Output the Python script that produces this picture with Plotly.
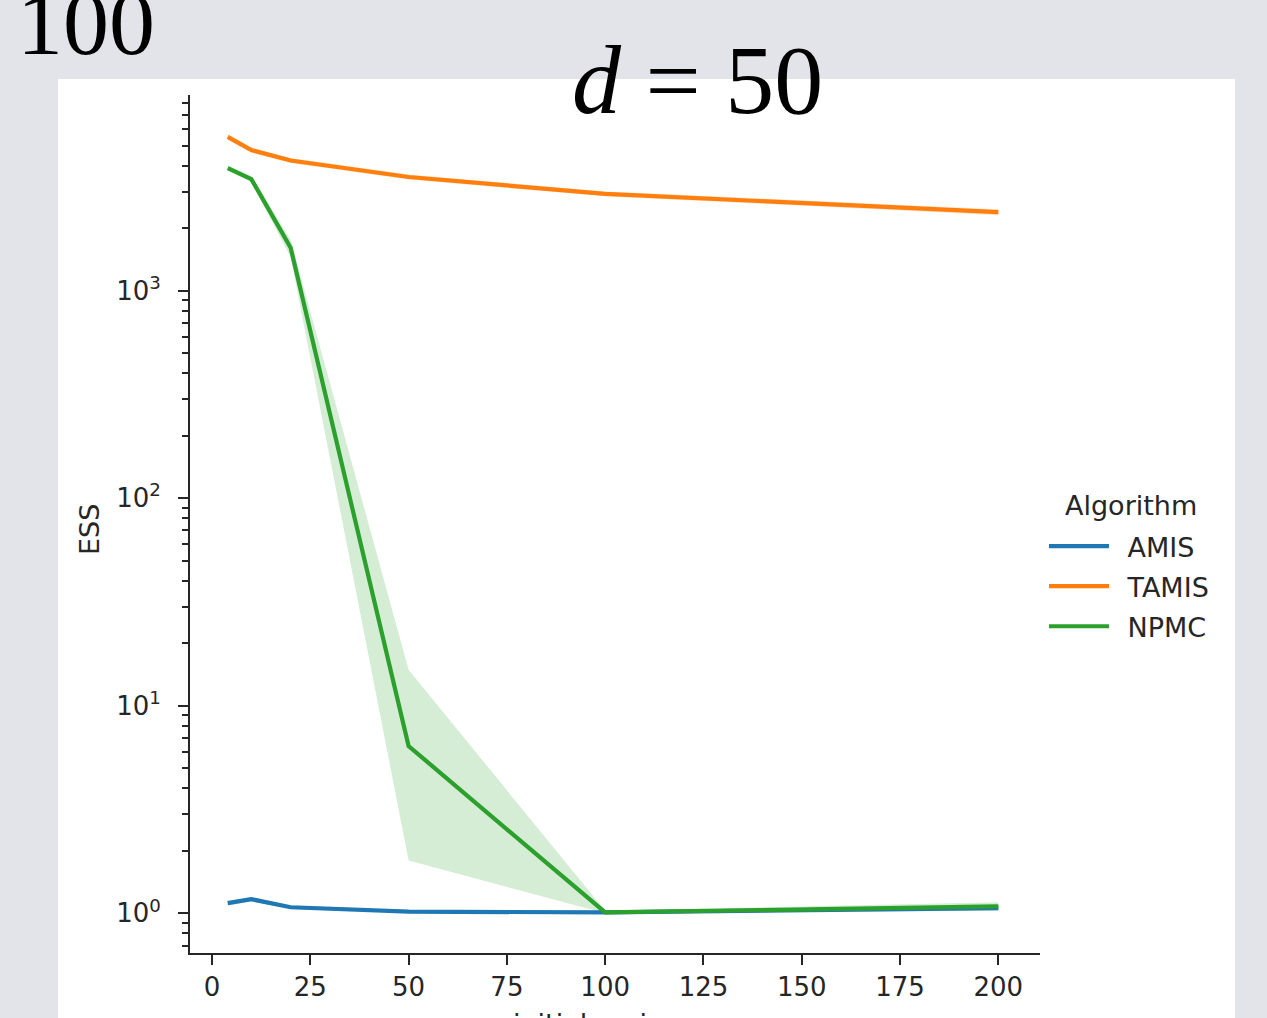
import plotly.graph_objects as go

# ---------------- data ----------------
variance = [4, 10, 20, 50, 100, 200]

amis_mean = [1.12, 1.17, 1.07, 1.02, 1.01, 1.06]
amis_lo = [1.09, 1.14, 1.05, 1.01, 1.00, 1.04]
amis_hi = [1.15, 1.20, 1.09, 1.03, 1.02, 1.08]

tamis_mean = [5510, 4760, 4240, 3530, 2930, 2390]
tamis_lo = [5330, 4620, 4120, 3430, 2850, 2310]
tamis_hi = [5690, 4900, 4360, 3630, 3010, 2470]

npmc_mean = [3900, 3450, 1610, 6.4, 1.01, 1.08]
npmc_lo = [3780, 3340, 1450, 1.8, 1.00, 1.03]
npmc_hi = [4020, 3560, 1760, 14.9, 1.03, 1.13]

x_ticks = [0, 25, 50, 75, 100, 125, 150, 175, 200]
y_tickvals = [1, 10, 100, 1000]
y_ticktext = ["10<sup>0</sup>", "10<sup>1</sup>", "10<sup>2</sup>", "10<sup>3</sup>"]

series = [
    ("AMIS", amis_mean, amis_lo, amis_hi, "#1f77b4", "rgba(31,119,180,0.2)"),
    ("TAMIS", tamis_mean, tamis_lo, tamis_hi, "#ff7f0e", "rgba(255,127,14,0.2)"),
    ("NPMC", npmc_mean, npmc_lo, npmc_hi, "#2ca02c", "rgba(44,160,44,0.2)"),
]

# ---------------- layout geometry (pixels) ----------------
W, H = 1267, 1018
L, R, T, B = 190, 1040, 95, 953


def px_x(px):
    return (px - L) / (R - L)


def px_y(py):
    return (B - py) / (B - T)


fig = go.Figure()

for name, mean, lo, hi, col, fillcol in series:
    fig.add_trace(go.Scatter(x=variance, y=lo, mode="lines", line=dict(width=0, color=col),
                             showlegend=False, hoverinfo="skip", legendgroup=name))
    fig.add_trace(go.Scatter(x=variance, y=hi, mode="lines", line=dict(width=0, color=col),
                             fill="tonexty", fillcolor=fillcol, showlegend=False,
                             hoverinfo="skip", legendgroup=name))

for name, mean, lo, hi, col, fillcol in series:
    fig.add_trace(go.Scatter(x=variance, y=mean, mode="lines", name="\u2002" + name,
                             legendgroup=name, line=dict(width=4.2, color=col)))

axis_col = "#262626"
tick_font = dict(family="DejaVu Sans", size=26, color=axis_col)
lab_font = dict(family="DejaVu Sans", size=27, color=axis_col)

fig.update_layout(
    width=W, height=H,
    margin=dict(l=L, r=W - R, t=T, b=H - B, pad=0),
    paper_bgcolor="#e3e4e9",
    plot_bgcolor="rgba(0,0,0,0)",
    showlegend=True,
    legend=dict(
        font=lab_font,
        x=px_x(1044), y=px_y(522), xanchor="left", yanchor="top",
        bgcolor="rgba(0,0,0,0)", itemwidth=60,
        traceorder="grouped", tracegroupgap=2,
    ),
    xaxis=dict(
        range=[-5.6, 210.6], tickvals=x_ticks, showgrid=False, zeroline=False,
        showline=True, linecolor=axis_col, linewidth=2,
        ticks="outside", ticklen=10, tickwidth=2, tickcolor=axis_col,
        tickfont=tick_font,
    ),
    yaxis=dict(
        type="log", range=[-0.191, 3.943], tickvals=y_tickvals, ticktext=y_ticktext,
        showgrid=False, zeroline=False,
        showline=True, linecolor=axis_col, linewidth=2,
        ticks="outside", ticklen=10, tickwidth=2, tickcolor=axis_col,
        tickfont=tick_font, ticklabelstandoff=12,
        minor=dict(ticks="outside", ticklen=6, tickwidth=1.5, tickcolor=axis_col,
                   dtick="D1", showgrid=False),
    ),
)

# white image panel behind the chart
fig.add_shape(type="rect", xref="paper", yref="paper",
              x0=px_x(58), x1=px_x(1235), y0=px_y(1030), y1=px_y(79),
              fillcolor="white", line=dict(width=0), layer="below")

# legend title
fig.add_annotation(text="Algorithm", xref="paper", yref="paper", x=px_x(1131), y=px_y(505),
                   showarrow=False, xanchor="center", yanchor="middle", font=lab_font)

# axis titles
fig.add_annotation(text="ESS", xref="paper", yref="paper", x=px_x(89), y=px_y(530),
                   textangle=-90, showarrow=False, xanchor="center", yanchor="middle",
                   font=lab_font)
fig.add_annotation(text="initial variance", xref="paper", yref="paper", x=px_x(612), y=px_y(1006),
                   showarrow=False, xanchor="center", yanchor="top", font=lab_font)

# slide texts
fig.add_annotation(text="<i>d</i> = 50", xref="paper", yref="paper", x=px_x(697), y=px_y(80),
                   showarrow=False, xanchor="center", yanchor="middle",
                   font=dict(family="Liberation Serif", size=98, color="black"))
fig.add_annotation(text="100", xref="paper", yref="paper", x=px_x(15), y=px_y(23),
                   showarrow=False, xanchor="left", yanchor="middle",
                   font=dict(family="Liberation Serif", size=92, color="black"))

fig.write_html("out.html", config={"displayModeBar": False},
               post_script="document.body.style.margin='0px';document.body.style.overflow='hidden';")
